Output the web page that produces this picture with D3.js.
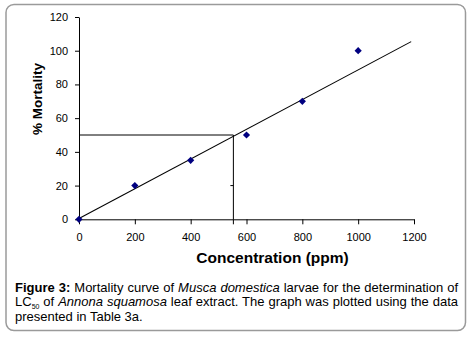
<!DOCTYPE html>
<html>
<head>
<meta charset="utf-8">
<script src="https://cdn.jsdelivr.net/npm/d3@7"></script>
<style>
  body { margin: 0; background: #fff; }
  #wrap { position: relative; width: 473px; height: 337px; overflow: hidden; }
  svg { position: absolute; left: 0; top: 0; }
  .cap { position: absolute; left: 15px; width: 443px; top: 280.5px;
         font-family: "Liberation Sans", Arial, sans-serif; font-size: 13px; line-height: 14.5px; color: #000; }
  .cap div { white-space: nowrap; }
  .cap .j { text-align: justify; text-align-last: justify; }
  .cap sub { font-size: 7px; vertical-align: -3px; line-height: 0; }
</style>
</head>
<body>
<div id="wrap"></div>
<script>
// data
var concentration = [0, 200, 400, 600, 800, 1000];
var mortality = [0, 20, 35, 50, 70, 100];
var xTicks = [0, 200, 400, 600, 800, 1000, 1200];
var yTicks = [0, 20, 40, 60, 80, 100, 120];
// fitted line end points and LC50 read-out
var trendX = [0, 1190];
var trendY = [0.5, 105.4];
var lc50 = { x: 553, y: 50 };

var W = 473, H = 337;
var font = "'Liberation Sans', Arial, sans-serif";

var wrap = d3.select("#wrap");
var svg = wrap.append("svg")
    .attr("width", W)
    .attr("height", H);

// frame
svg.append("rect")
    .attr("x", 6).attr("y", 4.5)
    .attr("width", 459.5).attr("height", 326)
    .attr("rx", 8).attr("ry", 8)
    .attr("fill", "none")
    .attr("stroke", "#9a9a9a")
    .attr("stroke-width", 1.5);

var x = d3.scaleLinear().domain([0, 1200]).range([79, 414]);
var y = d3.scaleLinear().domain([0, 120]).range([219.3, 17]);

var xAxis = svg.append("g")
    .attr("transform", "translate(0," + y(0) + ")")
    .call(d3.axisBottom(x).tickValues(xTicks).tickFormat(d3.format("d"))
      .tickSize(5).tickSizeOuter(0).tickPadding(9));

var yAxis = svg.append("g")
    .attr("transform", "translate(" + x(0) + ",0)")
    .call(d3.axisLeft(y).tickValues(yTicks).tickFormat(d3.format("d"))
      .tickSize(4).tickSizeOuter(0).tickPadding(7));

[xAxis, yAxis].forEach(function (g) {
  g.selectAll("path, line").attr("stroke", "#000");
  g.selectAll("text").attr("fill", "#000").style("font-family", font).style("font-size", "11px");
});

// LC50 guide lines
var guide = svg.append("g").attr("stroke", "#000").attr("fill", "none").attr("stroke-width", 1);
guide.append("line")
    .attr("x1", x(0)).attr("x2", x(lc50.x))
    .attr("y1", y(lc50.y)).attr("y2", y(lc50.y));
guide.append("line")
    .attr("x1", x(lc50.x)).attr("x2", x(lc50.x))
    .attr("y1", y(lc50.y)).attr("y2", y(0));
guide.append("line")
    .attr("x1", x(lc50.x) - 3).attr("x2", x(lc50.x))
    .attr("y1", y(20)).attr("y2", y(20));
guide.append("line")
    .attr("x1", x(lc50.x)).attr("x2", x(lc50.x))
    .attr("y1", y(0)).attr("y2", y(0) + 5);

// trend line
var line = d3.line().x(function (d) { return x(d[0]); }).y(function (d) { return y(d[1]); });
svg.append("path")
    .datum(d3.zip(trendX, trendY))
    .attr("d", line)
    .attr("fill", "none")
    .attr("stroke", "#000")
    .attr("stroke-width", 1.1);

// points
var diamond = d3.symbol().type(d3.symbolSquare).size(26);
svg.append("g").selectAll("path")
    .data(d3.zip(concentration, mortality))
    .join("path")
    .attr("d", diamond)
    .attr("transform", function (d) { return "translate(" + x(d[0]) + "," + y(d[1]) + ") rotate(45)"; })
    .attr("fill", "#000080");

// axis titles
svg.append("text")
    .attr("transform", "translate(42,99) rotate(-90)")
    .attr("text-anchor", "middle")
    .style("font-family", font).style("font-size", "13.5px").style("font-weight", "bold")
    .text("% Mortality");

svg.append("text")
    .attr("x", 272.5).attr("y", 263)
    .attr("text-anchor", "middle")
    .style("font-family", font).style("font-size", "15.5px").style("font-weight", "bold")
    .text("Concentration (ppm)");

// caption
var cap = wrap.append("div").attr("class", "cap");
cap.append("div").attr("class", "j")
    .html("<b>Figure 3:</b> Mortality curve of <i>Musca domestica</i> larvae for the determination of");
cap.append("div").attr("class", "j")
    .html("LC<sub>50</sub> of <i>Annona squamosa</i> leaf extract. The graph was plotted using the data");
cap.append("div")
    .html("presented in Table 3a.");
</script>
</body>
</html>
